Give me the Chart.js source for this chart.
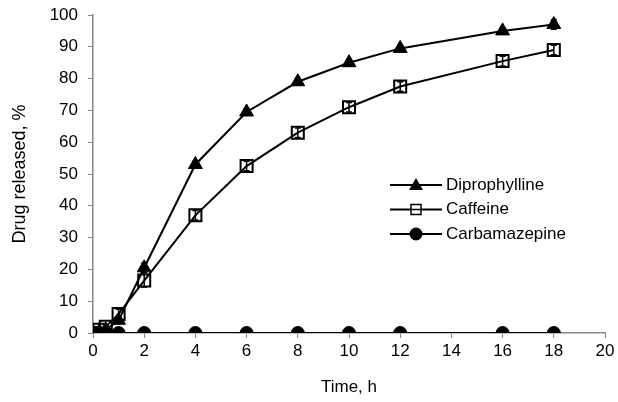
<!DOCTYPE html>
<html>
<head>
<meta charset="utf-8">
<script src="https://cdn.jsdelivr.net/npm/chart.js@4"></script>
<style>
  body { margin: 0; background: #fff; }
  #wrap { width: 618px; height: 402px; }
</style>
</head>
<body>
<div id="wrap"><canvas id="chart" width="618" height="402"></canvas></div>
<script>
// time points, h
const times = [0, 0.25, 0.5, 1, 2, 4, 6, 8, 10, 12, 16, 18];
// drug released, %
const diprophylline = [0, 0.5, 1, 4, 20.5, 53, 69.5, 79, 85, 89.5, 95, 97];
const caffeine = [0, 1, 2, 6, 16.5, 37, 52.5, 63, 71, 77.5, 85.5, 89];
const carbamazepine = [0, 0, 0, 0, 0, 0, 0, 0, 0, 0, 0, 0];
// error bars (SD)
const diprophyllineErr = [0, 0.3, 0.5, 1, 1.5, 1, 1, 1, 1, 1, 1, 1.5];
const caffeineErr = [0, 0.3, 0.5, 1.5, 2, 1.5, 1.5, 1.5, 1.5, 1.5, 1.5, 1.5];
const seriesNames = ["Diprophylline", "Caffeine", "Carbamazepine"];
const xTicks = [0, 2, 4, 6, 8, 10, 12, 14, 16, 18, 20];

const toPoints = ys => times.map((t, i) => ({ x: t, y: ys[i] }));
const FONT = "'Liberation Sans', Arial, sans-serif";

// vertical error bars
const errorBars = {
  id: "errorBars",
  afterDatasetsDraw(chart) {
    const ctx = chart.ctx;
    const xs = chart.scales.x, ys = chart.scales.y;
    ctx.save();
    ctx.strokeStyle = "#000";
    ctx.lineWidth = 1.5;
    chart.data.datasets.forEach(ds => {
      if (!ds.err) return;
      ds.data.forEach((p, i) => {
        const e = ds.err[i];
        if (!e) return;
        const px = xs.getPixelForValue(p.x);
        const top = ys.getPixelForValue(p.y + e);
        const bot = ys.getPixelForValue(p.y - e);
        ctx.beginPath();
        ctx.moveTo(px, top); ctx.lineTo(px, bot);
        ctx.moveTo(px - 3, top); ctx.lineTo(px + 3, top);
        ctx.moveTo(px - 3, bot); ctx.lineTo(px + 3, bot);
        ctx.stroke();
      });
    });
    ctx.restore();
  }
};

// legend with line through marker, inside plot
const lineLegend = {
  id: "lineLegend",
  afterDraw(chart) {
    const ctx = chart.ctx;
    const ca = chart.chartArea;
    const x0 = ca.left + 297, y0 = ca.top + 170, gap = 24.5;
    ctx.save();
    chart.data.datasets.forEach((ds, i) => {
      const y = y0 + i * gap;
      ctx.strokeStyle = "#000";
      ctx.lineWidth = 2;
      ctx.beginPath();
      ctx.moveTo(x0, y); ctx.lineTo(x0 + 52, y);
      ctx.stroke();
      const mx = x0 + 26;
      ctx.fillStyle = "#000";
      ctx.beginPath();
      if (ds.pointStyle === "triangle") {
        ctx.moveTo(mx, y - 7); ctx.lineTo(mx + 7, y + 5); ctx.lineTo(mx - 7, y + 5);
        ctx.closePath(); ctx.fill();
      } else if (ds.pointStyle === "rect") {
        ctx.fillStyle = "#fff";
        ctx.fillRect(mx - 5, y - 5, 10, 10);
        ctx.lineWidth = 1.5;
        ctx.strokeRect(mx - 5, y - 5, 10, 10);
        ctx.beginPath(); ctx.moveTo(mx - 5, y); ctx.lineTo(mx + 5, y); ctx.stroke();
      } else {
        ctx.arc(mx, y, 6.5, 0, Math.PI * 2); ctx.fill();
      }
      ctx.fillStyle = "#000";
      ctx.font = "17px " + FONT;
      ctx.textBaseline = "middle";
      ctx.fillText(ds.label, x0 + 56, y);
    });
    ctx.restore();
  }
};

new Chart(document.getElementById("chart").getContext("2d"), {
  type: "line",
  data: {
    datasets: [
      {
        label: seriesNames[0], data: toPoints(diprophylline), err: diprophyllineErr,
        borderColor: "#000", backgroundColor: "#000", borderWidth: 2,
        pointStyle: "triangle", pointRadius: 8, pointBorderWidth: 1
      },
      {
        label: seriesNames[1], data: toPoints(caffeine), err: caffeineErr,
        borderColor: "#000", backgroundColor: "rgba(0,0,0,0)", borderWidth: 2,
        pointStyle: "rect", pointRadius: 8.5, pointBorderWidth: 2
      },
      {
        label: seriesNames[2], data: toPoints(carbamazepine),
        borderColor: "#000", backgroundColor: "#000", borderWidth: 2,
        pointStyle: "circle", pointRadius: 6.5, pointBorderWidth: 1
      }
    ]
  },
  options: {
    responsive: false,
    animation: false,
    layout: { padding: { top: 15, right: 13, left: 0, bottom: 0 } },
    plugins: { legend: { display: false }, tooltip: { enabled: false } },
    scales: {
      x: {
        type: "linear", min: 0, max: 20,
        afterBuildTicks: s => { s.ticks = xTicks.map(v => ({ value: v })); },
        afterFit: s => { s.height = 69; s.paddingLeft = 0; s.paddingRight = 0; },
        grid: { drawOnChartArea: false, drawTicks: true, tickLength: 5, color: "#868686" },
        border: { color: "#868686", width: 1.5 },
        ticks: { color: "#000", font: { family: FONT, size: 17 }, padding: 3, maxRotation: 0 },
        title: { display: true, text: "Time, h", color: "#000", font: { family: FONT, size: 17 }, padding: { top: 12 } }
      },
      y: {
        min: 0, max: 100,
        afterFit: s => { s.width = 93; s.paddingTop = 0; s.paddingBottom = 0; },
        ticks: { stepSize: 10, color: "#000", font: { family: FONT, size: 17 }, padding: 10 },
        grid: { drawOnChartArea: false, drawTicks: true, tickLength: 5, color: "#868686" },
        border: { color: "#868686", width: 1.5 },
        title: { display: true, text: "Drug released, %", color: "#000", font: { family: FONT, size: 18 }, padding: { top: 9 } }
      }
    }
  },
  plugins: [errorBars, lineLegend]
});
</script>
</body>
</html>
